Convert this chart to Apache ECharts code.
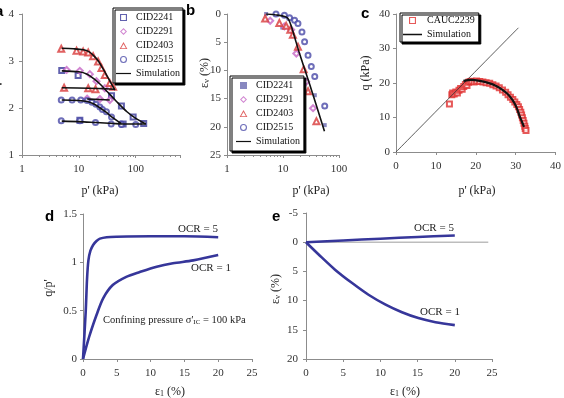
<!DOCTYPE html>
<html>
<head>
<meta charset="utf-8">
<script src="https://cdn.jsdelivr.net/npm/echarts@6/dist/echarts.min.js"></script>
<style>
html, body { margin: 0; padding: 0; background: #fff; }
#chart { width: 564px; height: 398px; }
</style>
</head>
<body>
<div id="chart"></div>
<script>
// panel a : v vs p' (log)
var aCID2241 = [[5, 2.8], [9.7, 2.69], [37.5, 2.26], [56, 2.04], [90, 1.81], [138, 1.67], [10.4, 1.74], [60, 1.66]];
var aCID2291 = [[6.1, 2.81], [10.4, 2.79], [15.6, 2.72], [20.4, 2.57], [28.6, 2.42], [14, 2.2], [23.4, 2.19], [35, 2.17]];
var aCID2403 = [[4.9, 3.26], [9.1, 3.22], [11.9, 3.2], [14.6, 3.18], [17.8, 3.1], [21.8, 2.99], [25, 2.85], [28.6, 2.7], [35, 2.53], [40, 2.45],
  [5.5, 2.43], [14.6, 2.42], [19.6, 2.4]];
var aCID2515 = [[4.9, 2.17], [7.6, 2.17], [10.8, 2.17], [14, 2.16], [17, 2.12], [20, 2.08], [23.4, 2.02], [26, 1.97], [30.5, 1.92], [37.5, 1.81], [56, 1.66],
  [4.9, 1.73], [10.4, 1.73], [19.6, 1.69], [37, 1.66], [56, 1.65], [100, 1.65]];
var aSim1 = [[5, 3.27], [8, 3.26], [12, 3.24], [15, 3.2], [18, 3.12], [22, 3.0], [27, 2.82], [33, 2.63], [43, 2.38]];
var aSim2 = [[5, 2.43], [15, 2.42], [30, 2.41], [43, 2.4]];
var aSim3 = [[5, 2.79], [10, 2.77], [14, 2.72], [18, 2.63], [24, 2.5], [32, 2.34], [45, 2.15], [70, 1.92], [100, 1.78], [150, 1.66]];
var aSim4 = [[5, 2.17], [10, 2.16], [14, 2.14], [18, 2.09], [23, 2.01], [30, 1.91], [40, 1.79], [55, 1.67]];
var aSim5 = [[14, 2.19], [24, 2.18], [35, 2.17]];
var aSim6 = [[5, 1.72], [10, 1.71], [20, 1.69], [40, 1.67], [60, 1.66], [150, 1.66]];

// panel b : volumetric strain vs p'
var bCID2241 = [[5, 0], [9.7, 2.4], [37, 14.4], [55.6, 19.7]];
var bCID2291 = [[5.9, 1.2], [10.6, 2.2], [14, 2.8], [17.3, 7.0], [26, 12], [34.4, 16.7]];
var bCID2403 = [[4.8, 0.8], [8.6, 1.6], [11.4, 2.1], [13.5, 2.8], [15, 3.7], [18.5, 5.8], [23.4, 9.8], [28, 13.7], [39.5, 19]];
var bCID2515 = [[7.5, 0], [10.6, 0.2], [13.1, 0.65], [16.1, 1.1], [18.5, 1.7], [21.8, 3.2], [24.3, 4.9], [28, 7.3], [32, 9.3], [36.9, 11.1], [55.6, 16.3]];
var bSim = [[5, 0], [8, 0.2], [11, 0.5], [12.5, 0.9], [14, 2.1], [16, 4.0], [20, 7.2], [25, 10.1], [30, 12.5], [40, 16.4], [55, 20.8]];

// panel c : q vs p'
var cCAUC2239 = [[13.4, 13.9], [14, 16.6], [14.2, 17.1], [14.6, 16.8], [15, 17.4], [15.4, 17.1], [15.8, 17.9], [16.2, 18.4], [16.6, 18.2], [17, 19], [17.4, 19.6],
  [17.8, 19.3], [18.2, 20.2], [18.6, 20.4], [19, 20.5], [19.6, 20.3], [20.2, 20.6], [21, 20.4], [21.8, 20.3], [22.6, 20.1], [23.5, 19.9], [24.3, 19.5],
  [25.1, 19.1], [25.9, 18.6], [26.7, 18], [27.5, 17.3], [28.1, 16.6], [28.7, 15.9], [29.3, 15.2], [29.8, 14.5], [30.3, 13.8], [30.7, 13.1], [31, 12.3],
  [31.3, 11.5], [31.5, 10.7], [31.7, 9.9], [31.9, 9.1], [32.1, 8.3], [32.3, 7.5], [32.4, 6.8], [32.6, 6.2]];
var cSim = [[16.9, 20.6], [18.9, 20.9], [21, 20.6], [23.5, 19.9], [25, 19.2], [26.7, 18], [28, 16.8], [29.2, 15.1], [30.2, 13], [30.9, 10.7], [31.5, 9], [32.1, 7.3]];
var cCSL = [[0, 0], [30.7, 36]];

// panel d : q/p' vs axial strain
var dOCR5 = [[0, 0], [0.4, 0.49], [0.6, 0.83], [0.8, 1.02], [1.1, 1.12], [1.5, 1.18], [2, 1.22], [2.5, 1.245], [3.5, 1.26], [5, 1.265], [10, 1.27], [15, 1.27], [20, 1.26]];
var dOCR1 = [[0, 0], [0.5, 0.13], [1, 0.25], [2, 0.455], [3, 0.63], [4.4, 0.765], [6.4, 0.85], [8.4, 0.9], [10.9, 0.955], [13.3, 0.99], [16.3, 1.02], [20, 1.075]];

// panel e : volumetric strain vs axial strain
var eOCR5 = [[0, 0], [5, -0.3], [10, -0.6], [15, -0.9], [20, -1.15]];
var eOCR1 = [[0, 0], [1.7, 2.1], [3.9, 4.7], [6.2, 7.0], [8.4, 9.0], [10.7, 10.7], [12.9, 12.0], [15.1, 13.0], [17.4, 13.7], [20, 14.2]];
var eZero = [[0, 0], [24.5, 0]];

var serif = 'Liberation Serif';
var sans = 'Liberation Sans';
var navy = '#36369a';
var cBlue = '#3a3a9a', cPink = '#c566c5', cRed = '#d83a3a', cCirc = '#4a4aa8';

// hollow legend icons (keep their aspect inside the legend item box)
var icoSquare = 'path://M0,0 H10 V10 H0 Z M1.6,1.6 V8.4 H8.4 V1.6 Z';
var icoDiamond = 'path://M5,0 L10,5 L5,10 L0,5 Z M5,2 L2,5 L5,8 L8,5 Z';
var icoTriangle = 'path://M5,0 L10,9 L0,9 Z M5,2.6 L1.9,7.9 L8.1,7.9 Z';
var icoCircle = 'path://M5,0 A5,5 0 1,1 5,10 A5,5 0 1,1 5,0 Z M5,1.6 A3.4,3.4 0 1,0 5,8.4 A3.4,3.4 0 1,0 5,1.6 Z';
var icoFill = 'path://M0,0 H10 V10 H0 Z';
var icoLine = 'path://M0,0 H20 V1.6 H0 Z';

var chartDom = document.getElementById('chart');
var myChart = echarts.init(chartDom);
var option;

function axis(gridIndex, extra, labelExtra) {
  var a = {
    gridIndex: gridIndex,
    axisLine: { show: true, onZero: false, lineStyle: { color: '#8c8c8c', width: 1 } },
    axisTick: { show: true, length: 3, lineStyle: { color: '#8c8c8c' } },
    axisLabel: Object.assign({ fontFamily: serif, fontSize: 11, color: '#333', margin: 9 }, labelExtra || {}),
    splitLine: { show: false }
  };
  return Object.assign(a, extra);
}

function logLabel(v) {
  return (v === 1 || v === 10 || v === 100) ? String(v) : '';
}

var logMinor = { show: true, splitNumber: 9, length: 2, lineStyle: { color: '#8c8c8c' } };

function pts(name, data, g, symbol, color, size) {
  return {
    name: name, type: 'scatter', xAxisIndex: g, yAxisIndex: g, data: data,
    symbol: symbol, symbolSize: size || 5,
    itemStyle: { color: color, borderWidth: 1 }
  };
}

function sim(name, data, g, color, width) {
  return {
    name: name, type: 'line', xAxisIndex: g, yAxisIndex: g, data: data,
    symbol: 'none', smooth: 0.3, z: 3,
    lineStyle: { color: color, width: width }, itemStyle: { color: color }
  };
}

function leg(name, icon, color) {
  return { name: name, icon: icon, itemStyle: { color: color, borderWidth: 0 } };
}

function txt(x, y, text, size, rot, rich) {
  var o = {
    type: 'text', x: x, y: y, rotation: rot || 0,
    style: { text: text, font: size + 'px ' + serif, fill: '#222', align: 'center', verticalAlign: 'middle' }
  };
  if (rich) o.style.rich = rich;
  return o;
}

function letter(x, y, t) {
  return { type: 'text', x: x, y: y, style: { text: t, font: 'bold 15px ' + sans, fill: '#000', verticalAlign: 'middle' } };
}

var subRich = {
  e: { fontFamily: serif, fontSize: 12, fill: '#222', color: '#222' },
  s: { fontFamily: serif, fontSize: 8, fill: '#222', color: '#222', padding: [4, 0, 0, 0] }
};

var legendBox = {
  orient: 'vertical', backgroundColor: '#fff', borderColor: '#000', borderWidth: 1,
  shadowColor: '#000', shadowBlur: 0, shadowOffsetX: 2, shadowOffsetY: 2,
  itemWidth: 15, itemHeight: 7, itemGap: 1,
  textStyle: { fontFamily: serif, fontSize: 10, color: '#111', lineHeight: 13 }
};

option = {
  animation: false,
  backgroundColor: '#fff',
  grid: [
    { left: 22, top: 14, width: 158, height: 141 },
    { left: 227, top: 14, width: 112, height: 141 },
    { left: 396, top: 14, width: 161, height: 138 },
    { left: 83, top: 214, width: 169, height: 145 },
    { left: 306, top: 213, width: 186, height: 146 }
  ],
  xAxis: [
    axis(0, { type: 'log', logBase: 10, min: 1, max: 600, minorTick: logMinor }, { formatter: logLabel }),
    axis(1, { type: 'log', logBase: 10, min: 1, max: 100, minorTick: logMinor }, { formatter: logLabel }),
    axis(2, { type: 'value', min: 0, max: 40, interval: 10 }),
    axis(3, { type: 'value', min: 0, max: 25, interval: 5 }),
    axis(4, { type: 'value', min: 0, max: 25, interval: 5 })
  ],
  yAxis: [
    axis(0, { type: 'value', min: 1, max: 4, interval: 1 }, { margin: 8 }),
    axis(1, { type: 'value', min: 0, max: 25, interval: 5, inverse: true }, { margin: 6 }),
    axis(2, { type: 'value', min: 0, max: 40, interval: 10 }, { margin: 6 }),
    axis(3, { type: 'value', min: 0, max: 1.5, interval: 0.5 }, { margin: 6 }),
    axis(4, { type: 'value', min: -5, max: 20, interval: 5, inverse: true }, { margin: 8 })
  ],
  legend: [
    Object.assign({}, legendBox, {
      left: 113, top: 8, padding: [3, 3, 3, 3],
      data: [leg('CID2241', icoSquare, cBlue), leg('CID2291', icoDiamond, cPink), leg('CID2403', icoTriangle, cRed),
        leg('CID2515', icoCircle, cCirc), leg('Simulation', icoLine, '#111')]
    }),
    Object.assign({}, legendBox, {
      left: 230, top: 76, padding: [3, 4, 3, 6],
      data: [leg('CID2241', icoFill, '#6a6ab0'), leg('CID2291', icoDiamond, cPink), leg('CID2403', icoTriangle, cRed),
        leg('CID2515', icoCircle, cCirc), leg('Simulation', icoLine, '#111')]
    }),
    Object.assign({}, legendBox, {
      left: 400, top: 13, padding: [1, 4, 1, 3], itemWidth: 19,
      data: [leg('CAUC2239', icoSquare, '#e03030'), leg('Simulation', icoLine, '#111')]
    })
  ],
  series: [
    pts('CID2241', aCID2241, 0, 'emptyRect', cBlue),
    pts('CID2291', aCID2291, 0, 'emptyDiamond', cPink, 6),
    pts('CID2403', aCID2403, 0, 'emptyTriangle', cRed, 6),
    pts('CID2515', aCID2515, 0, 'emptyCircle', cCirc),
    sim('Simulation', aSim1, 0, '#111', 1.6),
    sim('Simulation', aSim2, 0, '#111', 1.6),
    sim('Simulation', aSim3, 0, '#111', 1.6),
    sim('Simulation', aSim4, 0, '#111', 1.6),
    sim('Simulation', aSim5, 0, '#111', 1.6),
    sim('Simulation', aSim6, 0, '#111', 1.6),

    pts('CID2241', bCID2241, 1, 'rect', '#6a6ab0', 4),
    pts('CID2291', bCID2291, 1, 'emptyDiamond', cPink, 6),
    pts('CID2403', bCID2403, 1, 'emptyTriangle', cRed, 6),
    pts('CID2515', bCID2515, 1, 'emptyCircle', cCirc),
    sim('Simulation', bSim, 1, '#111', 1.6),

    sim('CSL', cCSL, 2, '#333', 0.8),
    pts('CAUC2239', cCAUC2239, 2, 'emptyRect', '#e03030'),
    sim('Simulation', cSim, 2, '#111', 2.2),

    sim('OCR = 5', dOCR5, 3, navy, 2.6),
    sim('OCR = 1', dOCR1, 3, navy, 2.6),

    sim('zero', eZero, 4, '#bdbdbd', 1.5),
    sim('OCR = 5 ', eOCR5, 4, navy, 2.4),
    sim('OCR = 1 ', eOCR1, 4, navy, 2.6)
  ],
  graphic: [
    letter(-5, 12, 'a'),
    letter(186, 11, 'b'),
    letter(361, 14, 'c'),
    letter(45, 217, 'd'),
    letter(272, 217, 'e'),

    txt(100, 191, "p' (kPa)", 12),
    txt(-1, 84, 'v', 12, Math.PI / 2),
    txt(311, 191, "p' (kPa)", 12),
    txt(205, 73, '{e|ε}{s|v}{e| (%)}', 12, Math.PI / 2, subRich),
    txt(477, 191, "p' (kPa)", 12),
    txt(366, 73, 'q (kPa)', 12, Math.PI / 2),
    txt(170, 392, '{e|ε}{s|1}{e| (%)}', 12, 0, subRich),
    txt(49, 288, "q/p'", 12, Math.PI / 2),
    txt(405, 392, '{e|ε}{s|1}{e| (%)}', 12, 0, subRich),
    txt(276, 289, '{e|ε}{s|v}{e| (%)}', 12, Math.PI / 2, subRich),

    txt(198, 229, 'OCR = 5', 11),
    txt(211, 268, 'OCR = 1', 11),
    { type: 'text', x: 103, y: 320,
      style: { text: "{t|Confining pressure σ'}{s|IC}{t| = 100 kPa}", verticalAlign: 'middle',
        rich: { t: { fontFamily: serif, fontSize: 10.5, fill: '#222', color: '#222' },
                s: { fontFamily: serif, fontSize: 7, fill: '#222', color: '#222', padding: [4, 0, 0, 0] } } } },
    txt(434, 228, 'OCR = 5', 11),
    txt(440, 312, 'OCR = 1', 11)
  ]
};

if (option && typeof option === 'object') {
  myChart.setOption(option);
}

window.onresize = function () {
  myChart.resize();
};
</script>
</body>
</html>
